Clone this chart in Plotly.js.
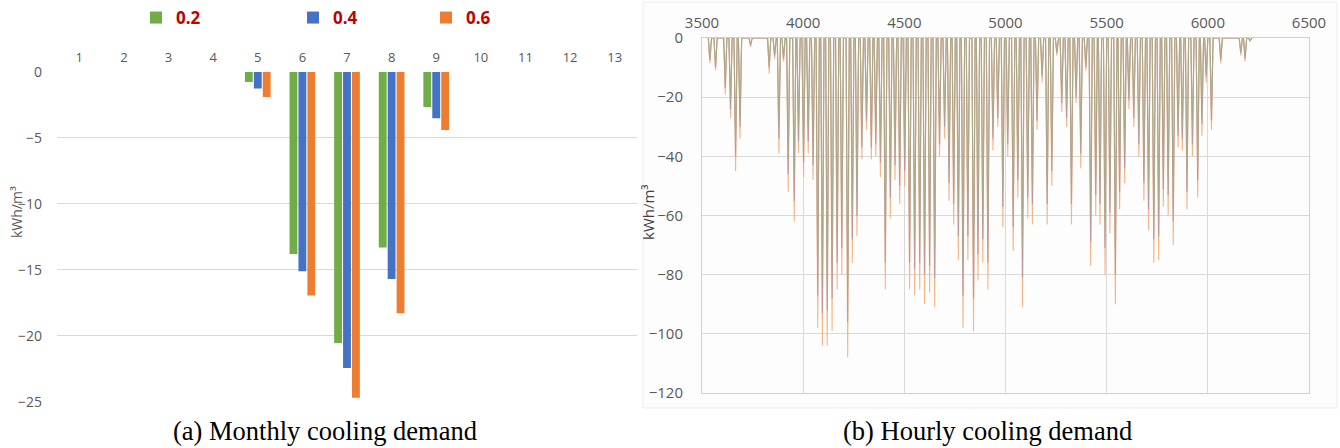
<!DOCTYPE html>
<html>
<head>
<meta charset="utf-8">
<script src="https://cdn.plot.ly/plotly-3.0.1.min.js"></script>
<style>html,body{margin:0;padding:0;background:#fff;}#chart{width:1340px;height:448px;}</style>
</head>
<body>
<div id="chart"></div>
<script>
// ---------- (a) Monthly cooling demand ----------
const months = ['1','2','3','4','5','6','7','8','9','10','11','12','13'];
const monthly02 = [null,null,null,null,-0.75,-13.8,-20.55,-13.3,-2.65,null,null,null,null];
const monthly04 = [null,null,null,null,-1.25,-15.1,-22.45,-15.7,-3.5,null,null,null,null];
const monthly06 = [null,null,null,null,-1.9,-16.95,-24.7,-18.3,-4.4,null,null,null,null];
const seriesNames = ['0.2','0.4','0.6'];

// ---------- (b) Hourly cooling demand: daily peaks ----------
const peakHours = [3539,3567,3615,3641,3666,3688,3740,3832,3859,3880,
  3903,3926,3956,3977,4002,4025,4049,4072,4095,4119,
  4143,4168,4191,4220,4243,4266,4290,4313,4337,4359,
  4382,4406,4431,4454,4477,4502,4526,4551,4576,4600,
  4625,4650,4674,4699,4721,4744,4767,4790,4814,4842,
  4864,4888,4913,4938,4962,4987,5011,5038,5061,5084,
  5110,5133,5156,5181,5206,5229,5254,5278,5302,5326,
  5349,5372,5397,5421,5446,5467,5492,5516,5543,5564,
  5589,5610,5634,5659,5684,5707,5733,5757,5780,5804,
  5829,5853,5874,5897,5924,5950,5971,5992,6018,6064,
  6163,6184,6209];
const hourly06 = [-8.5,-11,-19,-27,-45,-34,-3,-12,-7,-39,
  -8,-52,-62,-39,-47,-39,-48,-98,-104,-104,
  -99,-85,-80,-108,-76,-67,-41,-31,-41,-40,
  -47,-85,-61,-48,-56,-50,-85,-87,-85,-90,
  -86,-91,-40,-34,-55,-63,-75,-98,-75,-99,
  -82,-76,-85,-38,-30,-64,-40,-72,-54,-91,
  -61,-63,-31,-15,-63,-50,-6,-25,-30,-63,
  -22,-44,-11,-77,-60,-63,-80,-66,-90,-58,
  -49,-24,-30,-40,-55,-65,-76,-75,-57,-60,
  -70,-37,-38,-58,-40,-54,-33,-15,-31,-8.5,
  -6,-8,-1];
const hourly04 = [-7.5,-10,-17,-24,-40,-30,-2.5,-10,-6,-34,
  -7,-46,-55,-35,-42,-35,-43,-87,-93,-92,
  -88,-76,-71,-96,-68,-60,-37,-28,-37,-36,
  -42,-76,-54,-43,-50,-45,-76,-78,-76,-80,
  -77,-81,-36,-30,-49,-56,-67,-87,-67,-88,
  -73,-68,-76,-34,-27,-57,-36,-64,-48,-81,
  -54,-56,-28,-13,-56,-45,-5,-22,-27,-56,
  -20,-39,-10,-69,-53,-56,-71,-59,-80,-52,
  -44,-21,-27,-36,-49,-58,-68,-67,-51,-53,
  -62,-33,-34,-52,-36,-48,-29,-13,-28,-7.5,
  -5,-7,-1];
const hourly02 = [-6.5,-9,-15,-21,-35,-27,-2,-9,-5,-30,
  -6,-41,-48,-30,-37,-30,-37,-77,-82,-81,
  -77,-66,-62,-84,-59,-52,-32,-24,-32,-31,
  -37,-66,-48,-37,-44,-39,-66,-68,-66,-70,
  -67,-71,-31,-27,-43,-49,-59,-77,-59,-78,
  -64,-59,-66,-30,-23,-50,-31,-56,-42,-71,
  -48,-49,-24,-12,-49,-39,-4.5,-19,-23,-49,
  -17,-34,-9,-60,-47,-49,-62,-52,-70,-45,
  -38,-19,-23,-31,-43,-51,-59,-58,-44,-47,
  -55,-29,-30,-45,-31,-42,-26,-12,-24,-6.5,
  -4.5,-6,-1];

const HALF = 8; // hours either side of a daily peak where demand returns to 0
function needles(hours, vals){
  const x = [], y = [];
  hours.forEach((h,i)=>{ x.push(h-HALF, h, h+HALF); y.push(0, vals[i], 0); });
  return {x, y};
}

const W = 1340, H = 448;
const px = v => v / W;
const py = v => 1 - v / H;

const barColors = ['#70ad47','#4472c4','#ed7d31'];
const monthlyData = [monthly02, monthly04, monthly06];
const legendIds = ['legend','legend2','legend3'];

const traces = [];
monthlyData.forEach((d,i)=>{
  traces.push({
    type:'bar', x: months, y: d, name: seriesNames[i],
    marker:{color: barColors[i], line:{color: barColors[i], width:0}},
    xaxis:'x', yaxis:'y', legend: legendIds[i], hoverinfo:'y'
  });
});

const hourlyColors = ['rgba(244,170,115,0.85)','rgba(170,140,160,0.75)','rgba(165,175,130,0.7)'];
[hourly06, hourly04, hourly02].forEach((d,i)=>{
  const n = needles(peakHours, d);
  traces.push({
    type:'scatter', mode:'lines', x:n.x, y:n.y,
    line:{color: hourlyColors[i], width:1.1},
    xaxis:'x2', yaxis:'y2', showlegend:false, hoverinfo:'skip'
  });
});

const FAM = 'Open Sans, Liberation Sans, sans-serif';
const tickFont = {family:FAM, size:13, color:'#595959'};
const tickFont2 = {family:FAM, size:14, color:'#595959'};
const legFont = {family:FAM, size:17, color:'#c00000', weight:'bold'};

function leg(xc){
  return {x: px(xc), y: py(18), xanchor:'left', yanchor:'middle', orientation:'h',
    font: legFont, bgcolor:'rgba(0,0,0,0)', borderwidth:0, itemclick:false};
}

const layout = {
  width: W, height: H,
  margin:{l:0,r:0,t:0,b:0},
  paper_bgcolor:'#ffffff', plot_bgcolor:'rgba(0,0,0,0)',
  barmode:'group', bargap:0.4, bargroupgap:0.12,
  showlegend:true,
  legend: leg(136), legend2: leg(293), legend3: leg(426),
  xaxis:{
    domain:[px(57), px(637)], anchor:'y', side:'top', type:'category',
    showgrid:false, zeroline:false, showline:false, ticks:'',
    tickfont: tickFont, ticklabelstandoff: 6, fixedrange:true
  },
  yaxis:{
    domain:[py(401.7), py(72)], anchor:'x', range:[-25,0], dtick:5,
    showgrid:true, gridcolor:'#d9d9d9', gridwidth:1, zeroline:false, showline:false,
    ticks:'', tickfont: tickFont2, ticklabelstandoff: 14,
    fixedrange:true
  },
  xaxis2:{
    domain:[px(702), px(1309)], anchor:'y2', side:'top', range:[3500,6500], dtick:500,
    showgrid:true, gridcolor:'#d9d9d9', zeroline:false,
    showline:true, linecolor:'#d0d0d0', mirror:true, ticks:'',
    tickfont:{family:FAM, size:15, color:'#595959'},
    ticklabelstandoff: 3, fixedrange:true
  },
  yaxis2:{
    domain:[py(393), py(38)], anchor:'x2', range:[-120,0], dtick:20,
    showgrid:true, gridcolor:'#d9d9d9', zeroline:false,
    showline:true, linecolor:'#d0d0d0', mirror:true, ticks:'',
    tickfont:{family:FAM, size:15, color:'#595959'},
    ticklabelstandoff: 15,
    fixedrange:true
  },
  shapes:[
    {type:'rect', xref:'paper', yref:'paper', x0:px(643), x1:px(1337), y0:py(408), y1:py(2),
     line:{color:'#ececec', width:1}, fillcolor:'#fdfdfd', layer:'below'}
  ],
  annotations:[
    {text:'kWh/m³', xref:'paper', yref:'paper', x:px(16), y:py(212), textangle:-90,
     xanchor:'center', yanchor:'middle', showarrow:false,
     font:{family:FAM, size:14, color:'#595959'}},
    {text:'kWh/m³', xref:'paper', yref:'paper', x:px(648), y:py(212), textangle:-90,
     xanchor:'center', yanchor:'middle', showarrow:false,
     font:{family:FAM, size:15, color:'#404040'}},
    {text:'(a) Monthly cooling demand', xref:'paper', yref:'paper', x:px(325), y:py(431),
     xanchor:'center', yanchor:'middle', showarrow:false,
     font:{family:'Liberation Serif, Times New Roman, serif', size:26.5, color:'#000'}},
    {text:'(b) Hourly cooling demand', xref:'paper', yref:'paper', x:px(987), y:py(431),
     xanchor:'center', yanchor:'middle', showarrow:false,
     font:{family:'Liberation Serif, Times New Roman, serif', size:26.5, color:'#000'}}
  ]
};

Plotly.newPlot('chart', traces, layout, {displayModeBar:false, staticPlot:true});
</script>
</body>
</html>
